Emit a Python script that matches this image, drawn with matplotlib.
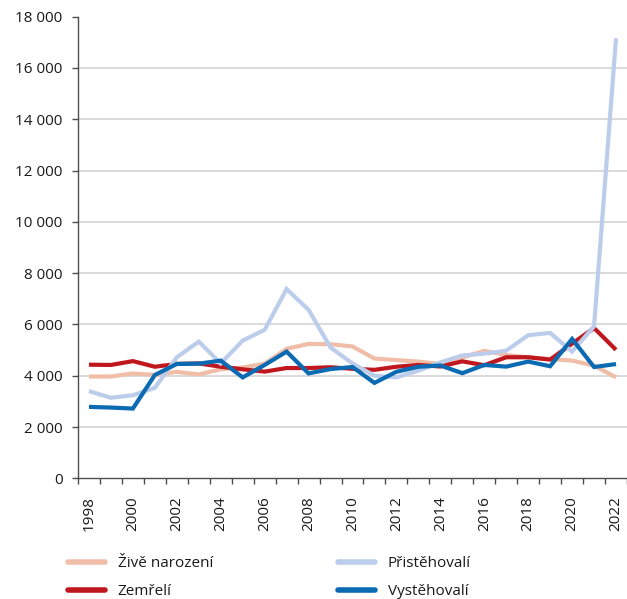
import matplotlib
matplotlib.use("Agg")
import matplotlib.pyplot as plt
from matplotlib.lines import Line2D

years = list(range(1998, 2023))
zive_narozeni = [3970, 3970, 4090, 4030, 4150, 4050, 4250, 4320, 4470, 5050, 5240, 5230, 5140,
                 4670, 4610, 4550, 4460, 4710, 4970, 4810, 4720, 4650, 4590, 4390, 3940]
zemreli = [4430, 4420, 4570, 4350, 4460, 4480, 4350, 4250, 4160, 4300, 4300, 4330, 4270,
           4230, 4350, 4420, 4360, 4560, 4410, 4720, 4720, 4630, 5250, 5860, 5010]
pristehovali = [3400, 3140, 3240, 3530, 4720, 5330, 4480, 5370, 5790, 7380, 6570, 5100, 4480,
                4000, 3935, 4200, 4520, 4790, 4860, 4975, 5580, 5670, 4940, 5930, 17160]
vystehovali = [2785, 2758, 2720, 4030, 4460, 4470, 4590, 3935, 4420, 4940, 4090, 4260, 4340,
               3720, 4155, 4350, 4400, 4100, 4420, 4355, 4550, 4370, 5435, 4340, 4455]

labels = ["Živě narození", "Zemřelí", "Přistěhovalí", "Vystěhovalí"]
colors = ["#f0bea8", "#c0171e", "#bccdec", "#0a6bb3"]
yticks = list(range(0, 18001, 2000))

plt.rcParams['font.family'] = ['Open Sans', 'DejaVu Sans']
fs = 11
text_color = "#1a1a1a"
spine_color = "#4d4d4d"

fig = plt.figure(figsize=(6.27, 5.99), dpi=100)
ax = fig.add_axes([0.1244, 0.2015, 0.8756, 0.7706])

x = list(range(len(years)))
series = [zive_narozeni, zemreli, pristehovali, vystehovali]
for s, c, lab in zip(series, colors, labels):
    ax.plot(x, s, color=c, lw=3.0, solid_joinstyle='miter', solid_capstyle='butt', label=lab)

ax.set_xlim(-0.5, len(years) - 0.5)
ax.set_ylim(0, 18000)

# gridlines
ax.hlines(yticks[1:-1], -0.5, len(years) - 0.5, colors="#d4d4d4", lw=1.2, zorder=0)

ax.set_yticks(yticks)
ax.set_yticklabels([f"{v:,}".replace(",", " ") for v in yticks], fontsize=fs, color=text_color)
ax.tick_params(axis='y', direction='out', length=4, width=1, color=spine_color, pad=7)

ax.set_xticks([i - 0.5 for i in range(len(years) + 1)])
ax.set_xticklabels([])
ax.tick_params(axis='x', which='major', direction='out', length=4, width=1, color=spine_color)
ax.set_xticks([i for i, y in enumerate(years) if y % 2 == 0], minor=True)
ax.set_xticklabels([str(y) for y in years if y % 2 == 0], minor=True, rotation=90,
                   fontsize=fs, color=text_color)
ax.tick_params(axis='x', which='minor', length=0, pad=13)

for side in ['top', 'right']:
    ax.spines[side].set_visible(False)
for side in ['left', 'bottom']:
    ax.spines[side].set_color(spine_color)
    ax.spines[side].set_linewidth(1.0)

handles = [Line2D([], [], color=c, lw=4, solid_capstyle='round') for c in colors]
leg_kw = dict(frameon=False, fontsize=fs, handlelength=2.45, handletextpad=0.8,
              labelspacing=0.85, borderpad=0, borderaxespad=0, loc='upper left',
              labelcolor=text_color)
fig.legend([handles[0], handles[1]], [labels[0], labels[1]],
           bbox_to_anchor=(0.1085, 0.072), **leg_kw)
fig.legend([handles[2], handles[3]], [labels[2], labels[3]],
           bbox_to_anchor=(0.539, 0.072), **leg_kw)

fig.savefig("out.png", dpi=100)
